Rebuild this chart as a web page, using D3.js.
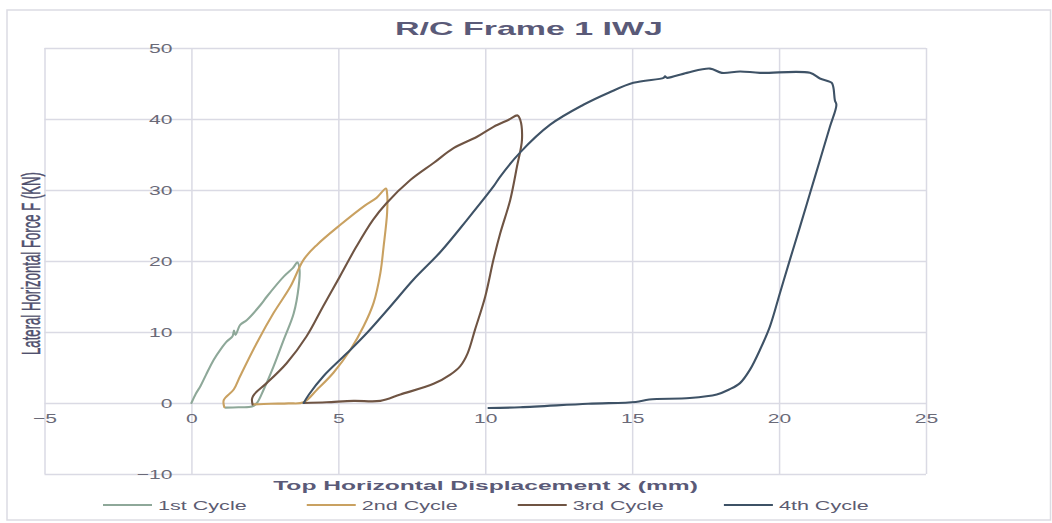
<!DOCTYPE html>
<html>
<head>
<meta charset="utf-8">
<script src="https://cdn.jsdelivr.net/npm/d3@7"></script>
<style>
  html, body { margin: 0; padding: 0; background: #ffffff; }
  svg { display: block; font-family: "Liberation Sans", Arial, sans-serif; }
</style>
</head>
<body>
<svg id="chart" width="1052" height="523"></svg>
<script>
// ---------------- DATA ----------------
const titleText = "R/C Frame 1 IWJ";
const xLabelText = "Top Horizontal Displacement x (mm)";
const yLabelText = "Lateral Horizontal Force F (KN)";
const seriesNames = ["1st Cycle", "2nd Cycle", "3rd Cycle", "4th Cycle"];
const xTicks = [-5, 0, 5, 10, 15, 20, 25];
const yTicks = [-10, 0, 10, 20, 30, 40, 50];

// [displacement x (mm), force F (kN)]
const cycle1 = [
  [0,0],[0.15,1.3],[0.31,2.4],[0.5,4.0],[0.76,6.1],[1.0,7.6],[1.21,8.7],[1.40,9.4],
  [1.45,10.2],[1.50,9.6],[1.66,11.0],[1.89,11.7],[2.35,13.8],[2.57,15.0],[3.14,17.8],
  [3.45,19.0],[3.61,19.8],[3.68,18.8],[3.65,16.4],[3.48,12.6],[3.14,8.9],[2.8,5.2],
  [2.46,1.9],[2.23,0],[2.06,-0.5],[1.6,-0.6],[1.16,-0.65]
];
const cycle2 = [
  [1.12,-0.6],[1.10,0.4],[1.44,1.9],[1.66,3.8],[2.23,8.5],[2.8,12.7],[3.37,16.4],
  [3.82,20.2],[4.28,22.3],[5.07,25.1],[5.9,27.8],[6.30,28.9],[6.62,30.2],[6.66,29.5],
  [6.66,26.8],[6.54,22.0],[6.43,18.3],[6.2,14.1],[5.86,10.8],[5.41,7.5],[4.84,4.3],
  [4.28,1.9],[3.82,0.1],[3.3,-0.05],[2.7,-0.1],[2.1,-0.2]
];
const cycle3 = [
  [2.08,-0.2],[2.06,0.5],[2.1,1.0],[2.2,1.5],[2.56,2.8],[3.24,5.6],[3.92,9.4],[4.48,13.6],
  [5.05,17.8],[5.61,22.0],[6.18,25.8],[6.63,28.1],[7.45,31.4],[8.24,33.8],[8.92,35.9],
  [9.72,37.5],[10.28,38.9],[10.8,39.9],[11.1,40.5],[11.19,39.9],[11.25,37.1],[11.08,33.3],
  [10.85,28.6],[10.51,23.9],[10.28,20.2],[10.0,15.0],[9.65,10.3],[9.4,7.0],[9.15,5.2],
  [8.81,4.0],[8.24,2.7],[7.11,1.2],[6.43,0.3],[5.52,0.3],[4.6,0.1],[3.82,0]
];
const cycle4 = [
  [3.82,0],[4.0,1.2],[4.5,3.8],[5.29,7.0],[5.98,9.9],[6.77,13.6],[7.56,17.4],[8.48,21.3],
  [9.38,25.8],[10.28,30.5],[10.51,31.9],[11.19,35.3],[12.21,39.2],[13.34,42.0],[14.2,43.7],
  [15.04,45.1],[16.07,45.8],[16.12,46.0],[16.18,45.8],[16.86,46.5],[17.65,47.1],[18.05,46.5],
  [18.67,46.7],[19.35,46.5],[21.05,46.5],[21.39,45.7],[21.79,45.1],[21.85,44.4],[21.9,42.6],
  [21.95,42.0],[21.73,38.9],[21.39,34.2],[21.05,29.5],[20.71,24.8],[20.37,20.2],[20.03,15.5],
  [19.69,10.8],[19.35,7.5],[19.01,4.7],[18.67,2.8],[18.3,1.9],[17.88,1.2],[16.96,0.7],
  [15.58,0.5],[15.12,0.15],[13.5,-0.1],[11.19,-0.6],[10.11,-0.7]
];
const seriesData = [cycle1, cycle2, cycle3, cycle4];
const seriesColors = ["#8ea899", "#c9a161", "#6f5443", "#3e5266"];

// ---------------- LAYOUT ----------------
const svg = d3.select("#chart");
const plot = { left: 44.5, right: 926, top: 48, bottom: 474 };
const textColor = "#5a5a78";
const tickColor = "#6a6a78";
const gridColor = "#dadae4";
const STRETCH = 1.62;

const x = d3.scaleLinear().domain([-5, 25]).range([plot.left, plot.right]);
const y = d3.scaleLinear().domain([-10, 50]).range([plot.bottom, plot.top]);

// outer border
svg.append("rect")
  .attr("x", 7).attr("y", 10).attr("width", 1043.5).attr("height", 510)
  .attr("fill", "#fff").attr("stroke", "#dcdce3").attr("stroke-width", 1.5);

// gridlines via axes
const gx = svg.append("g")
  .attr("transform", `translate(0,${plot.bottom})`)
  .call(d3.axisBottom(x).tickValues(xTicks).tickSize(-(plot.bottom - plot.top)).tickFormat(""));
const gy = svg.append("g")
  .attr("transform", `translate(${plot.left},0)`)
  .call(d3.axisLeft(y).tickValues(yTicks).tickSize(-(plot.right - plot.left)).tickFormat(""));
[gx, gy].forEach(g => {
  g.select(".domain").remove();
  g.selectAll(".tick line").attr("stroke", gridColor).attr("stroke-width", 1.5);
});

// Y tick labels at x=0 axis
const yAxisG = svg.append("g")
  .attr("transform", `translate(${x(0)},0)`)
  .call(d3.axisLeft(y).tickValues(yTicks).tickSize(0).tickPadding(19));
yAxisG.select(".domain").remove();
yAxisG.selectAll(".tick text")
  .attr("font-size", 13).attr("fill", tickColor)
  .attr("font-family", "Liberation Sans, Arial, sans-serif")
  .attr("x", -19 / STRETCH)
  .attr("transform", `scale(${STRETCH},1)`);

// X tick labels at y=0 axis
const xAxisG = svg.append("g")
  .attr("transform", `translate(0,${y(0)})`)
  .call(d3.axisBottom(x).tickValues(xTicks).tickSize(0).tickPadding(10.5));
xAxisG.select(".domain").remove();
xAxisG.selectAll(".tick text")
  .attr("font-size", 13).attr("fill", tickColor)
  .attr("font-family", "Liberation Sans, Arial, sans-serif")
  .attr("transform", `scale(${STRETCH},1)`);

// curves
const line = d3.line().x(d => x(d[0])).y(d => y(d[1])).curve(d3.curveCatmullRom.alpha(0.5));
seriesData.forEach((data, i) => {
  svg.append("path")
    .datum(data)
    .attr("d", line)
    .attr("fill", "none")
    .attr("stroke", seriesColors[i])
    .attr("stroke-width", 2.1)
    .attr("stroke-linejoin", "round")
    .attr("stroke-linecap", "round");
});

// text helper: fit to width with horizontal stretch
function fitText(str, cx, cy, opts) {
  const g = svg.append("g");
  const t = g.append("text")
    .text(str)
    .attr("text-anchor", opts.anchor || "middle")
    .attr("font-size", opts.size)
    .attr("font-weight", opts.weight || "normal")
    .attr("fill", opts.color || textColor);
  if (opts.strokeW) t.attr("stroke", opts.color || textColor).attr("stroke-width", opts.strokeW);
  const len = t.node().getComputedTextLength();
  const sx = opts.width ? opts.width / len : (opts.sx || 1);
  const sy = opts.sy || 1;
  g.attr("transform", `translate(${cx},${cy}) rotate(${opts.rotate || 0}) scale(${sx},${sy})`);
  return len * sx;
}

// title
fitText(titleText, 529, 35.3, { size: 17.7, weight: "bold", width: 268 });
// x axis title
fitText(xLabelText, 485.5, 489.5, { size: 13, weight: "bold", width: 425 });
// y axis title (rotated, condensed)
fitText(yLabelText, 39.5, 263.5, { size: 13, rotate: -90, width: 183, sy: 2.05, color: "#50506e", strokeW: 0.25 });

// legend
let cursor = 103;
seriesNames.forEach((name, i) => {
  svg.append("line")
    .attr("x1", cursor).attr("x2", cursor + 49)
    .attr("y1", 505).attr("y2", 505)
    .attr("stroke", seriesColors[i]).attr("stroke-width", 2.1);
  const w = fitText(name, cursor + 55, 510, { size: 13, anchor: "start", sx: 1.66, color: "#5c5c72" });
  cursor = cursor + 55 + w + 60;
});
</script>
</body>
</html>
